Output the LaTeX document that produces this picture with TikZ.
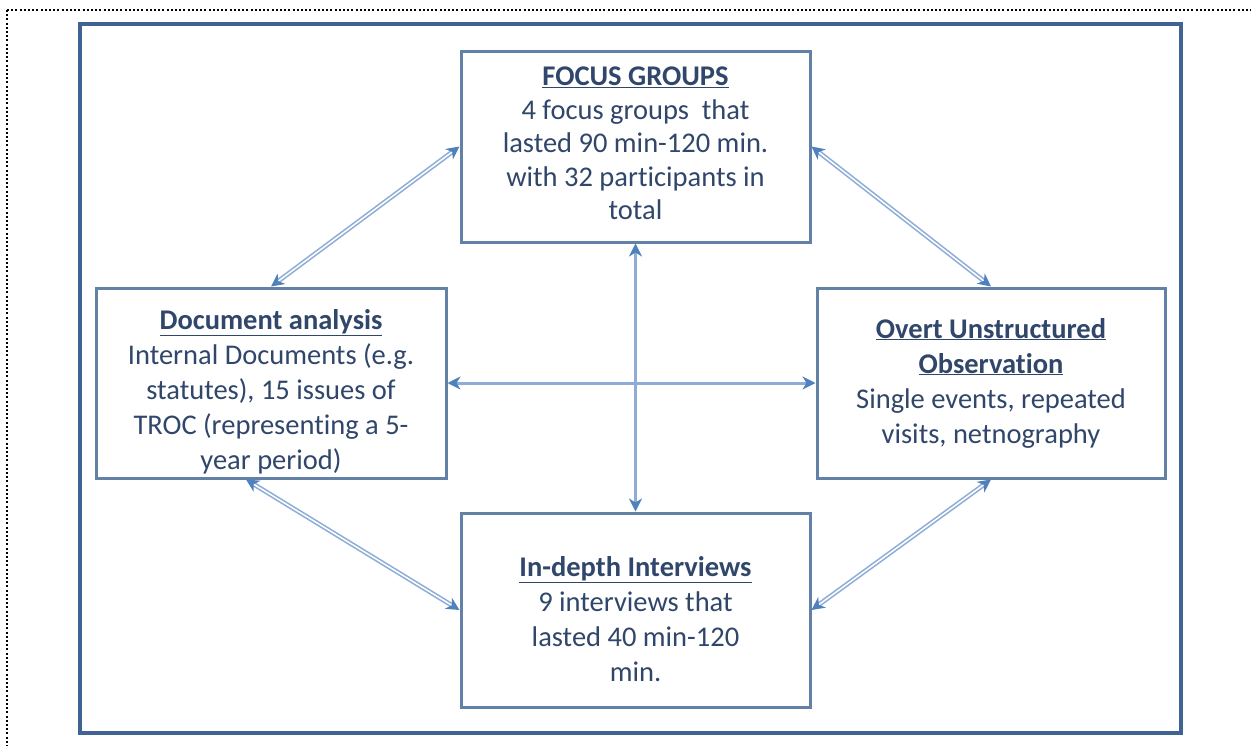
\documentclass[tikz,border=0pt]{standalone}
\usepackage{fontspec}
\setmainfont{Carlito}[Ligatures=NoCommon]
\usetikzlibrary{arrows.meta}
\definecolor{framebl}{HTML}{3F6493}
\definecolor{boxbl}{HTML}{6381A6}
\definecolor{linkbl}{HTML}{8EADD6}
\definecolor{tipbl}{HTML}{4F81BD}
\definecolor{txt}{HTML}{30466A}
\tikzset{
  method/.style={draw=boxbl, line width=3pt, fill=white, rectangle, inner sep=0pt},
  methodtext/.style={inner sep=0pt, align=center, text=txt,
    font=\fontsize{28.5}{35}\selectfont},
  dlink/.style={draw=linkbl, line width=1.6pt, double=white, double distance=1.5pt,
    {Stealth[length=13pt, width=13pt, inset=4pt, color=tipbl]}-{Stealth[length=13pt, width=13pt, inset=4pt, color=tipbl]}},
  slink/.style={draw=linkbl, line width=3pt,
    {Stealth[length=13pt, width=13pt, inset=4pt, color=tipbl]}-{Stealth[length=13pt, width=13pt, inset=4pt, color=tipbl]}},
  pageedge/.style={black, line width=2pt, dash pattern=on 2pt off 2.2pt},
}
\newcommand{\heading}[1]{\textbf{\underline{#1}}}
\begin{document}
\begin{tikzpicture}[x=1pt, y=-1pt]
  \useasboundingbox (0,0) rectangle (1251,745);
  % dotted page edge
  \draw[pageedge] (7,10) -- (1262,10);
  \draw[pageedge] (7,10) -- (7,760);
  % outer frame
  \draw[framebl, line width=4pt] (80,24) rectangle (1181,733);

  % the four method boxes
  \node[method, minimum width=349pt, minimum height=191pt] (focus) at (635.5,146.5) {};
  \node[method, minimum width=350pt, minimum height=190pt] (doc) at (271,383) {};
  \node[method, minimum width=348pt, minimum height=190pt] (obs) at (991,383) {};
  \node[method, minimum width=349pt, minimum height=194pt] (inter) at (635.5,610) {};

  % their texts
  \node[methodtext, font=\fontsize{28.5}{33.5}\selectfont] (focustext) at ([yshift=3pt]focus.center)
    {\heading{FOCUS GROUPS}\\4 focus groups\ \ that\\lasted 90 min-120 min.\\with 32 participants in\\total};
  \node[methodtext] (doctext) at ([yshift=-9pt]doc.center)
    {\heading{Document analysis}\\Internal Documents (e.g.\\statutes), 15 issues of\\TROC (representing a 5-\\year period)};
  \node[methodtext] (obstext) at (obs.center)
    {\heading{Overt Unstructured}\\\heading{Observation}\\Single events, repeated\\visits, netnography};
  \node[methodtext] (intertext) at ([yshift=-9pt]inter.center)
    {\heading{In-depth Interviews}\\9 interviews that\\lasted 40 min-120\\min.};

  % connections between methods
  \draw[dlink] (focus.west) -- (doc.north);
  \draw[dlink] (focus.east) -- (obs.north);
  \draw[dlink] ([xshift=-25pt]doc.south) -- (inter.west);
  \draw[dlink] (obs.south) -- (inter.east);
  \draw[slink] (focus.south) -- (inter.north);
  \draw[slink] (doc.east) -- (obs.west);
\end{tikzpicture}
\end{document}
